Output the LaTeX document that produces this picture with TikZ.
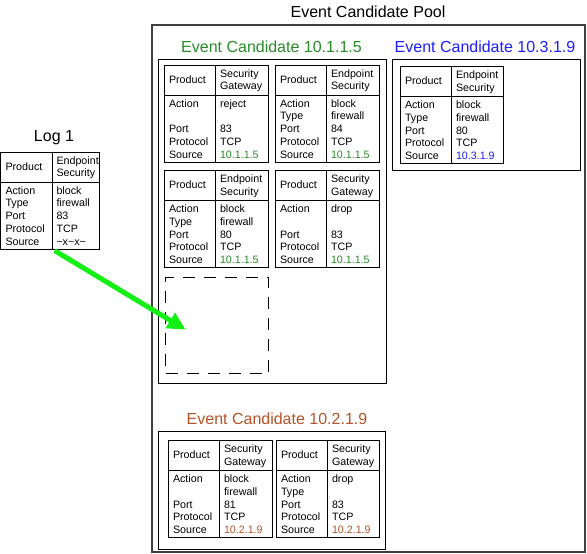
\documentclass[tikz,border=0pt]{standalone}
\usepackage{fontspec}
\setmainfont{Liberation Sans}
\usetikzlibrary{arrows.meta,calc}
\definecolor{cgreen}{RGB}{40,140,40}
\definecolor{cblue}{RGB}{30,30,255}
\definecolor{cbrown}{RGB}{180,84,40}
\definecolor{carrow}{RGB}{20,240,20}
\def\tblw{104}
\tikzset{
  tblbox/.style={draw=black, line width=0.9pt, inner sep=0pt, outer sep=0pt, anchor=north west},
  tblline/.style={draw=black, line width=0.9pt},
  txt/.style={anchor=base west, inner sep=0pt, outer sep=0pt, font=\fontsize{10.7}{13}\selectfont},
  grpbox/.style={draw=black, line width=0.9pt, inner sep=0pt, outer sep=0pt, anchor=north west},
  poolbox/.style={draw=black!75, line width=2pt, inner sep=0pt, outer sep=0pt, anchor=north west},
  title/.style={anchor=base, inner sep=0pt, font=\fontsize{16}{18}\selectfont},
  slotbox/.style={draw=black, line width=0.9pt, dash pattern=on 12pt off 9pt, inner sep=0pt, outer sep=0pt, anchor=north west},
  bigarrow/.style={draw=carrow, line width=5pt, -{Triangle[length=18pt,width=17pt]}, shorten <=3pt}
}
\newcommand\evtable[8]{%
  \node[tblbox, minimum width=\tblw pt, minimum height=97pt] (#1) at (0,0) {};
  \coordinate (#1-hl) at (0,30); \coordinate (#1-hr) at (\tblw,30);
  \draw[tblline] (#1-hl) -- (#1-hr);
  \coordinate (#1-dt) at (51.5,0); \coordinate (#1-db) at (51.5,97);
  \draw[tblline] (#1-dt) -- (#1-db);
  \node[txt] (#1-l0) at (5,18) {Product};
  \node[txt] (#1-v0a) at (56,12) {#2};
  \node[txt] (#1-v0b) at (56,24.5) {#3};
  \node[txt] (#1-l1) at (5,42) {Action};
  \node[txt] (#1-l2) at (5,54.8) {#4};
  \node[txt] (#1-l3) at (5,67.6) {Port};
  \node[txt] (#1-l4) at (5,80.4) {Protocol};
  \node[txt] (#1-l5) at (5,93.2) {Source};
  \node[txt] (#1-v1) at (56,42) {#5};
  \node[txt] (#1-v2) at (56,54.8) {#6};
  \node[txt] (#1-v3) at (56,67.6) {#7};
  \node[txt] (#1-v4) at (56,80.4) {TCP};
  \node[txt] (#1-v5) at (56,93.2) {#8};
}
\begin{document}
\begin{tikzpicture}[x=1pt,y=-1pt]
\useasboundingbox[fill=white] (0,0) rectangle (587,554);

% pool
\node[poolbox, minimum width=433pt, minimum height=527pt] (pool) at (152,25) {};
\node[title] (pooltitle) at (368,17) {Event Candidate Pool};

% groups
\node[grpbox, minimum width=228pt, minimum height=324pt] (ggreen) at (158,59) {};
\node[title, text=cgreen] (tgreen) at (271.5,52) {Event Candidate 10.1.1.5};
\node[grpbox, minimum width=188pt, minimum height=111pt] (gblue) at (392,59) {};
\node[title, text=cblue] (tblue) at (485,52) {Event Candidate 10.3.1.9};
\node[grpbox, minimum width=227.5pt, minimum height=118pt] (gbrown) at (158,431) {};
\node[title, text=cbrown] (tbrown) at (277,424) {Event Candidate 10.2.1.9};

% log
\node[title] (logtitle) at (54,141) {Log 1};
\begin{scope}[shift={(0.5,152)}]
\def\tblw{99}
\evtable{log}{Endpoint}{Security}{Type}{block}{firewall}{83}{\textasciitilde x\textasciitilde x\textasciitilde}
\end{scope}

% green tables
\begin{scope}[shift={(164,65)}]
\evtable{ta}{Security}{Gateway}{}{reject}{}{83}{\textcolor{cgreen}{10.1.1.5}}
\end{scope}
\begin{scope}[shift={(275,65)}]
\evtable{tb}{Endpoint}{Security}{Type}{block}{firewall}{84}{\textcolor{cgreen}{10.1.1.5}}
\end{scope}
\begin{scope}[shift={(164,170.5)}]
\evtable{tc}{Endpoint}{Security}{Type}{block}{firewall}{80}{\textcolor{cgreen}{10.1.1.5}}
\end{scope}
\begin{scope}[shift={(275,170.5)}]
\evtable{td}{Security}{Gateway}{}{drop}{}{83}{\textcolor{cgreen}{10.1.1.5}}
\end{scope}

% blue table
\begin{scope}[shift={(400,66.5)}]
\def\tblw{103}
\evtable{te}{Endpoint}{Security}{Type}{block}{firewall}{80}{\textcolor{cblue}{10.3.1.9}}
\end{scope}

% brown tables
\begin{scope}[shift={(168,440.5)}]
\evtable{tf}{Security}{Gateway}{}{block}{firewall}{81}{\textcolor{cbrown}{10.2.1.9}}
\end{scope}
\begin{scope}[shift={(276,440.5)}]
\def\tblw{103}
\evtable{tg}{Security}{Gateway}{Type}{drop}{}{83}{\textcolor{cbrown}{10.2.1.9}}
\end{scope}

% empty slot
\node[slotbox, minimum width=103pt, minimum height=96pt] (slot) at (165.7,277.7) {};
\coordinate (arrE) at ($(slot.west)+(20,4)$);

% arrow
\draw[bigarrow] (log-db) -- (arrE);
\end{tikzpicture}
\end{document}
